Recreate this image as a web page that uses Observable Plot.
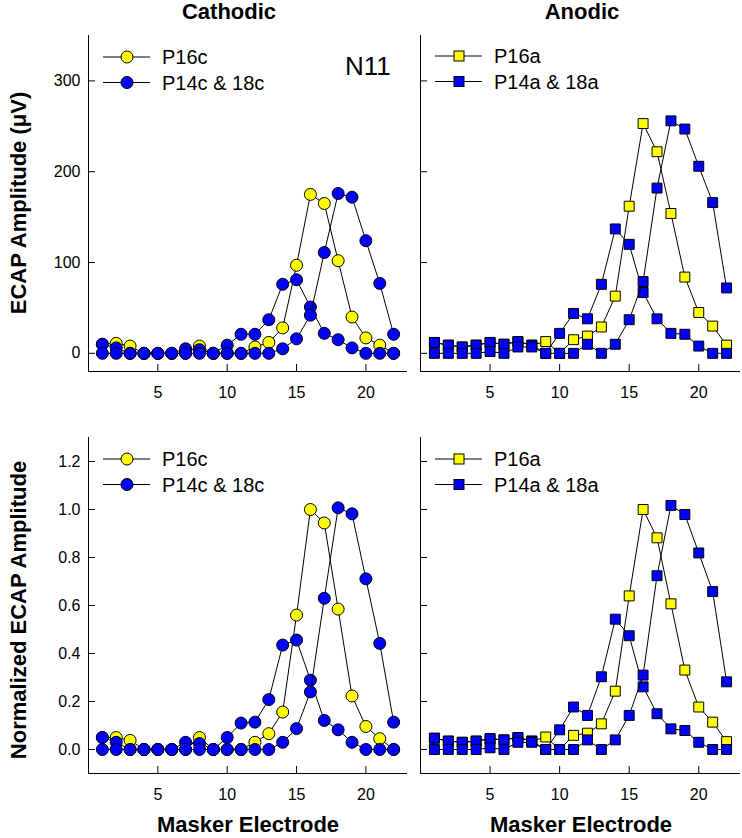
<!DOCTYPE html>
<html><head><meta charset="utf-8">
<script src="https://cdn.jsdelivr.net/npm/d3@7"></script>
<script src="https://cdn.jsdelivr.net/npm/@observablehq/plot@0.6"></script>
<style>
html,body{margin:0;padding:0;background:#fff;}
#chart{position:relative;width:742px;height:838px;font-family:"Liberation Sans",Arial,sans-serif;}
</style></head><body><div id="chart"></div>
<script>
// ---- data ----
const electrodes = [1,2,3,4,5,6,7,8,9,10,11,12,13,14,15,16,17,18,19,20,21,22];
const xTicks = [5,10,15,20];
const ampTicks = [0,100,200,300];
const normTicks = [0,0.2,0.4,0.6,0.8,1.0,1.2];

const columnTitles = ["Cathodic","Anodic"];
const cathLegend = ["P16c","P14c & 18c"];
const anodLegend = ["P16a","P14a & 18a"];
const subjectLabel = "N11";
const yTitleTop = "ECAP Amplitude (\u03bcV)";
const yTitleBottom = "Normalized ECAP Amplitude";
const xTitle = "Masker Electrode";

// Cathodic, ECAP amplitude (uV)
const cathP16 = [10,11,8,0,0,0,0,8,0,0,0,7,12,28,97,175,165,102,40,17,9,0];
const cathP14 = [10,6,0,0,0,0,5,4,0,9,21,21,37,76,81,51,22,15,6,0,0,0];
const cathP18 = [0,0,0,0,0,0,0,0,0,0,0,0,0,5,16,42,111,176,172,124,77,21];
// Anodic, ECAP amplitude (uV)
const anodP16 = [12,9,7,9,12,10,13,9,13,0,15,19,29,63,162,253,222,154,84,45,30,9];
const anodP14 = [12,9,7,9,12,10,13,9,0,22,44,38,76,137,120,67,38,22,21,8,0,0];
const anodP18 = [0,0,0,0,2,0,7,7,0,0,0,10,0,10,37,79,182,256,247,206,166,72];
// Cathodic, normalized
const normCathP16 = [0.05,0.05,0.038,0,0,0,0,0.05,0,0,0,0.03,0.066,0.156,0.56,1.0,0.944,0.585,0.223,0.096,0.045,0];
const normCathP14 = [0.05,0.03,0,0,0,0,0.03,0.025,0,0.05,0.11,0.114,0.208,0.435,0.456,0.289,0.121,0.082,0.03,0,0,0];
const normCathP18 = [0,0,0,0,0,0,0,0,0,0,0,0,0,0.03,0.087,0.24,0.63,1.007,0.982,0.711,0.442,0.114];
// Anodic, normalized
const normAnodP16 = [0.047,0.035,0.03,0.035,0.045,0.04,0.05,0.035,0.052,0,0.059,0.068,0.107,0.243,0.64,1.0,0.882,0.607,0.331,0.177,0.114,0.033];
const normAnodP14 = [0.047,0.035,0.03,0.035,0.045,0.04,0.05,0.035,0,0.082,0.177,0.142,0.303,0.543,0.474,0.261,0.149,0.086,0.079,0.03,0,0];
const normAnodP18 = [0,0,0,0,0.007,0,0.03,0.03,0,0,0,0.04,0,0.04,0.142,0.31,0.724,1.017,0.979,0.819,0.658,0.282];

const YELLOW = "#ffff00", BLUE = "#0000ff";
const FONT = '"Liberation Sans", Arial, sans-serif';

// ---- panels ----
const chart = document.getElementById("chart");

function panel(cfg) {
  const {series, yDomain, yTicks, yFormat, showY, symbol, r, left, top, width, height, m} = cfg;
  const xDomain = [0, 23];
  const innerW = width - m.left - m.right, innerH = height - m.top - m.bottom;
  const marks = [
    Plot.ruleX([xDomain[0]], {stroke: "black", strokeWidth: 1}),
    Plot.ruleY([yDomain[0]], {stroke: "black", strokeWidth: 1}),
    Plot.ruleX(xTicks, {stroke: "black", insetTop: innerH - 7}),
    Plot.ruleY(yTicks, {stroke: "black", insetRight: innerW - 7})
  ];
  for (const s of series) {
    const rows = electrodes.map((e, i) => ({x: e, y: s.values[i]}));
    marks.push(Plot.line(rows, {x: "x", y: "y", stroke: "black", strokeWidth: 1}));
    marks.push(Plot.dot(rows, {x: "x", y: "y", r, symbol, fill: s.color, stroke: "black", strokeWidth: 1}));
  }
  const svg = Plot.plot({
    width, height,
    marginTop: m.top, marginRight: m.right, marginBottom: m.bottom, marginLeft: m.left,
    x: {domain: xDomain, ticks: xTicks, tickSize: 0, tickPadding: 15, label: null},
    y: showY
      ? {domain: yDomain, ticks: yTicks, tickSize: 0, tickPadding: 8, tickFormat: yFormat, label: null}
      : {domain: yDomain, axis: null},
    style: {fontFamily: FONT, fontSize: "16px", color: "black", background: "transparent", overflow: "visible"},
    marks
  });
  svg.style.position = "absolute";
  svg.style.left = left + "px";
  svg.style.top = top + "px";
  chart.appendChild(svg);
}

const mTopL = {top: 35, right: 7, bottom: 49, left: 88};
const mTopR = {top: 35, right: 2, bottom: 49, left: 6};
const mBotL = {top: 17, right: 7, bottom: 65, left: 88};
const mBotR = {top: 17, right: 2, bottom: 65, left: 6};
const fmtAmp = d3.format("d"), fmtNorm = d3.format(".1f");

panel({series: [{values: cathP16, color: YELLOW}, {values: cathP14, color: BLUE}, {values: cathP18, color: BLUE}],
  yDomain: [-20, 350], yTicks: ampTicks, yFormat: fmtAmp, showY: true, symbol: "circle", r: 6,
  left: 0, top: 0, width: 414, height: 420, m: mTopL});
panel({series: [{values: anodP16, color: YELLOW}, {values: anodP14, color: BLUE}, {values: anodP18, color: BLUE}],
  yDomain: [-20, 350], yTicks: ampTicks, yFormat: fmtAmp, showY: false, symbol: "square", r: 5.6,
  left: 414, top: 0, width: 328, height: 420, m: mTopR});
panel({series: [{values: normCathP16, color: YELLOW}, {values: normCathP14, color: BLUE}, {values: normCathP18, color: BLUE}],
  yDomain: [-0.1, 1.3], yTicks: normTicks, yFormat: fmtNorm, showY: true, symbol: "circle", r: 6,
  left: 0, top: 420, width: 414, height: 418, m: mBotL});
panel({series: [{values: normAnodP16, color: YELLOW}, {values: normAnodP14, color: BLUE}, {values: normAnodP18, color: BLUE}],
  yDomain: [-0.1, 1.3], yTicks: normTicks, yFormat: fmtNorm, showY: false, symbol: "square", r: 5.6,
  left: 414, top: 420, width: 328, height: 418, m: mBotR});

// ---- overlay: titles and legends ----
const ov = d3.select(chart).append("svg")
  .attr("width", 742).attr("height", 838)
  .style("position", "absolute").style("left", "0px").style("top", "0px")
  .style("pointer-events", "none")
  .style("font-family", FONT);

function bold(x, y, txt, rot) {
  const t = ov.append("text").attr("text-anchor", "middle").attr("font-weight", "bold")
    .attr("font-size", 22).attr("fill", "black").text(txt);
  if (rot) t.attr("transform", `translate(${x},${y}) rotate(-90)`);
  else t.attr("x", x).attr("y", y);
}
bold(229, 19, columnTitles[0]);
bold(582, 19, columnTitles[1]);
bold(26, 203, yTitleTop, true);
bold(26, 610, yTitleBottom, true);
bold(248, 832, xTitle);
bold(581, 832, xTitle);

ov.append("text").attr("x", 345).attr("y", 75).attr("font-size", 26).attr("fill", "black").text(subjectLabel);

function legend(x0, y0, labels, symbol) {
  const colors = [YELLOW, BLUE];
  labels.forEach((lab, i) => {
    const y = y0 + i * 25.5;
    ov.append("line").attr("x1", x0).attr("x2", x0 + 47).attr("y1", y).attr("y2", y)
      .attr("stroke", "black").attr("stroke-width", 1);
    if (symbol === "circle") {
      ov.append("circle").attr("cx", x0 + 24).attr("cy", y).attr("r", 6)
        .attr("fill", colors[i]).attr("stroke", "black");
    } else {
      ov.append("rect").attr("x", x0 + 24 - 5).attr("y", y - 5).attr("width", 10).attr("height", 10)
        .attr("fill", colors[i]).attr("stroke", "black");
    }
    ov.append("text").attr("x", x0 + 59).attr("y", y + 7).attr("font-size", 20).attr("fill", "black").text(lab);
  });
}
legend(103, 57, cathLegend, "circle");
legend(435, 56, anodLegend, "square");
legend(103, 459, cathLegend, "circle");
legend(435, 459, anodLegend, "square");
</script></body></html>
